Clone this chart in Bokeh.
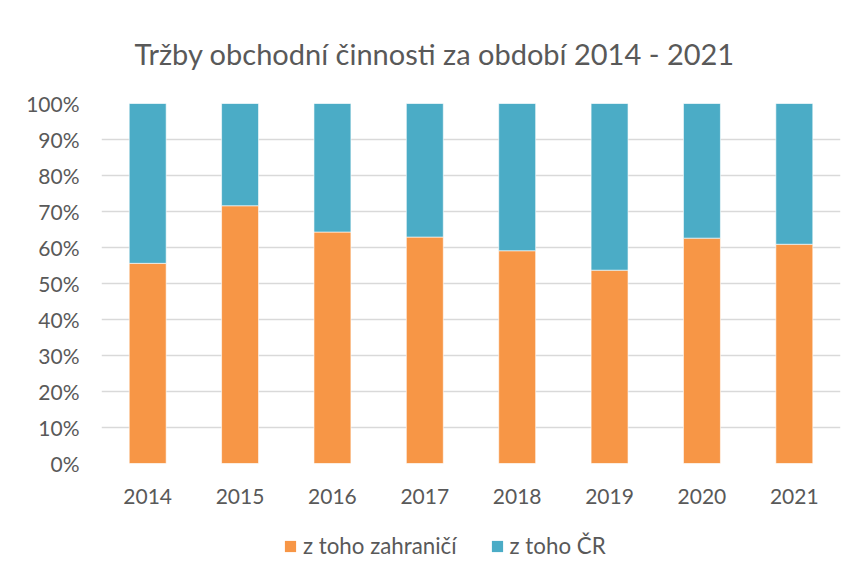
from bokeh.plotting import figure
from bokeh.models import ColumnDataSource, FixedTicker, Legend, LegendItem, Title
from bokeh.layouts import column
from bokeh.embed import file_html
from bokeh.resources import INLINE

years = ["2014", "2015", "2016", "2017", "2018", "2019", "2020", "2021"]
zahranici = [55.6, 71.6, 64.3, 62.9, 59.1, 53.7, 62.6, 60.9]
cr = [100 - v for v in zahranici]
series_names = ["z toho zahraničí", "z toho ČR"]
colors = ["#F79646", "#4BACC6"]
title_text = "Tržby obchodní činnosti za období  2014 - 2021"

FONT = "Lato"
TXT = "#595959"

src = ColumnDataSource(dict(year=years, zahranici=zahranici, cr=cr))

p = figure(x_range=years, y_range=(0, 100), width=846, height=510,
           output_backend="svg", toolbar_location=None,
           min_border_left=101, min_border_right=6, min_border_top=103, min_border_bottom=47)

t = Title(text=title_text, align="left", offset=33, text_font=FONT, text_font_size="29px",
          text_color=TXT, text_font_style="normal", standoff=66)
p.title = t

p.vbar_stack(["zahranici", "cr"], x="year", width=0.4, source=src,
             color=colors, line_color="white", line_width=0.6)

p.yaxis.ticker = FixedTicker(ticks=list(range(0, 101, 10)))
p.yaxis.major_label_overrides = {v: f"{v}%" for v in range(0, 101, 10)}
for ax in (p.xaxis, p.yaxis):
    ax.axis_line_color = None
    ax.major_tick_line_color = None
    ax.minor_tick_line_color = None
    ax.major_label_text_font = FONT
    ax.major_label_text_font_size = "21px"
    ax.major_label_text_color = TXT
p.yaxis.major_label_standoff = 16
p.xaxis.major_label_standoff = 19

p.xgrid.grid_line_color = None
p.ygrid.grid_line_color = "#D9D9D9"
p.ygrid.grid_line_width = 1.5
p.outline_line_color = None
p.x_range.range_padding = 0

# legend strip below the chart (same series, bars kept out of its view)
lg = figure(x_range=p.x_range, y_range=(1000, 1001), width=846, height=50,
            output_backend="svg", toolbar_location=None,
            min_border_left=0, min_border_right=0, min_border_top=0, min_border_bottom=0)
lr = lg.vbar_stack(["zahranici", "cr"], x="year", width=0.4, source=src,
                   color=colors, line_color=None)
lg.axis.visible = False
lg.grid.grid_line_color = None
lg.outline_line_color = None

legend = Legend(items=[LegendItem(label=series_names[0], renderers=[lr[0]]),
                       LegendItem(label=series_names[1], renderers=[lr[1]])],
                orientation="horizontal", location=(182, 1),
                label_text_font=FONT, label_text_font_size="22.3px", label_text_color=TXT,
                glyph_width=14, glyph_height=14, spacing=33, label_standoff=6,
                border_line_color=None, background_fill_alpha=0, margin=0, padding=0)
lg.add_layout(legend, "center")

layout = column(p, lg, spacing=0)
open("out.html", "w").write(file_html(layout, INLINE))
